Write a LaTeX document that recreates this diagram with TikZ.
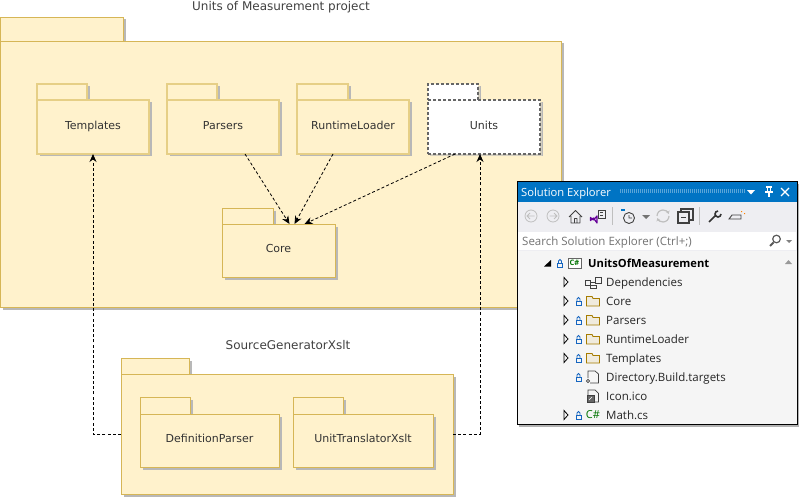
\documentclass[tikz,border=0pt]{standalone}
\usepackage{fontspec}
\setmainfont{Open Sans}
\newfontfamily\labelfont{DejaVu Sans}
\usetikzlibrary{arrows.meta,shadows}

\definecolor{pkgfill}{HTML}{FFF2CC}
\definecolor{pkgline}{HTML}{D6B656}
\definecolor{softline}{HTML}{E6CF86}
\definecolor{vsblue}{HTML}{0074C4}
\definecolor{lockblue}{HTML}{1565C0}
\definecolor{foldline}{HTML}{A67C00}
\definecolor{foldfill}{HTML}{F0EBDD}
\definecolor{panelbg}{HTML}{F5F5F5}
\definecolor{barbg}{HTML}{EEEEF2}

\tikzset{
  pkgshadow/.style={drop shadow={shadow xshift=2.5pt,shadow yshift=-2.5pt,fill=black!28,opacity=1}},
  pkgbody/.style={draw=pkgline,fill=pkgfill,line width=0.9pt,pkgshadow,outer sep=0pt,inner sep=0pt,
    text height=8pt,text depth=5pt,font=\labelfont\fontsize{11}{13}\selectfont,text=black!80},
  pkgtab/.style={pkgbody,anchor=south west},
  softbody/.style={pkgbody,draw=softline,line width=1.3pt,text depth=3pt},
  softtab/.style={softbody,anchor=south west},
  unitsbody/.style={pkgbody,draw=black!60,fill=white,line width=1.1pt,dash pattern=on 3pt off 2pt,text depth=3pt,
    drop shadow={shadow xshift=2pt,shadow yshift=-2pt,fill=pkgline!50!black!30,opacity=1}},
  unitstab/.style={unitsbody,anchor=south west},
  dep/.style={draw=black,line width=0.8pt,dash pattern=on 3pt off 2.2pt,-{Stealth[length=8pt,width=7pt]}},
  title/.style={font=\labelfont\fontsize{12}{13}\selectfont,text=black!75,inner sep=0pt},
  treeitem/.style={anchor=west,inner sep=0pt,text height=10pt,text depth=2pt,font=\fontsize{11.5}{13}\selectfont,text=black!85},
  tool/.style={line width=0.9pt,draw=black!75},
  toolgray/.style={line width=0.8pt,draw=black!25}
}

\newcommand{\lockicon}[2]{%
  \draw[lockblue,line width=0.9pt] (#1-2.5,#2+0.5) rectangle (#1+2.5,#2+4);
  \draw[lockblue,line width=0.9pt] (#1-1.5,#2+0.5) -- (#1-1.5,#2-2) arc[start angle=180,end angle=360,radius=1.5] -- (#1+1.5,#2+0.5);}
\newcommand{\expander}[2]{%
  \draw[black,line width=0.8pt,line join=miter] (#1-2,#2-4.5) -- (#1+2,#2) -- (#1-2,#2+4.5) -- cycle;}
\newcommand{\foldericon}[2]{%
  \draw[foldline,fill=foldfill,line width=0.9pt] (#1,#2+5) -- (#1,#2-4.5) -- (#1+5.5,#2-4.5) -- (#1+6.5,#2-2.5) -- (#1+13,#2-2.5) -- (#1+13,#2+5) -- cycle;}

\begin{document}
\begin{tikzpicture}[x=1pt,y=-1pt]
\useasboundingbox (0,0) rectangle (799,497);

% titles
\node (projecttitle) at (281,7) [title] {Units of Measurement project};
\node (generatortitle) at (288,345) [title] {SourceGeneratorXslt};

% outer package
\node (projecttab) at (0,41) [pkgtab,minimum width=123,minimum height=24] {};
\node (project) at (280.5,174) [pkgbody,minimum width=561,minimum height=266] {};

% inner packages
\node (templatestab) at (37,100) [softtab,minimum width=50,minimum height=16] {};
\node (templates) at (93,127) [softbody,minimum width=112,minimum height=54] {Templates};
\node (parserstab) at (167,100) [softtab,minimum width=50,minimum height=16] {};
\node (parsers) at (223,127) [softbody,minimum width=112,minimum height=54] {Parsers};
\node (loadertab) at (297,100) [softtab,minimum width=51,minimum height=16] {};
\node (loader) at (353,127) [softbody,minimum width=112,minimum height=54] {RuntimeLoader};
\node (unitstab) at (428,100) [unitstab,minimum width=50,minimum height=16] {};
\node (units) at (484,127) [unitsbody,minimum width=112,minimum height=54] {Units};
\node (coretab) at (222,224) [pkgtab,minimum width=51,minimum height=16] {};
\node (core) at (278.5,250.5) [pkgbody,minimum width=113,minimum height=53] {Core};

% generator package
\node (generatortab) at (121,374) [pkgtab,minimum width=68,minimum height=16] {};
\node (generator) at (287,434) [pkgbody,minimum width=332,minimum height=120] {};
\node (definitiontab) at (140,414) [pkgtab,minimum width=50,minimum height=17] {};
\node (definition) at (209.5,440.5) [pkgbody,minimum width=139,minimum height=53] {DefinitionParser};
\node (translatortab) at (293,414) [pkgtab,minimum width=50,minimum height=17] {};
\node (translator) at (363,440.5) [pkgbody,minimum width=140,minimum height=53] {UnitTranslatorXslt};

% dependencies
\draw[dep] ([xshift=22pt]parsers.south) -- ([xshift=11pt]core.north);
\draw[dep] ([xshift=-20pt]loader.south) -- ([xshift=16pt]core.north);
\draw[dep] ([xshift=-29pt]units.south) -- ([xshift=26pt]core.north);
\draw[dep] (generator.west) -| (templates.south);
\draw[dep] (generator.east) -| ([xshift=-4pt]units.south);

% solution explorer window
\fill[black!30] (519,184) rectangle (799,427);
\node (explorer) at (657,302.5) [draw=black,fill=panelbg,line width=1pt,minimum width=280,minimum height=243,inner sep=0pt,outer sep=0pt] {};
\fill[vsblue] (517.5,181.5) rectangle (796.5,202);
\fill[barbg] (517.5,202) rectangle (796.5,250.5);
\node (searchbox) at (657,241) [fill=white,minimum width=278,minimum height=18.5,inner sep=0pt] {};
\node (explorertitle) at (521,192) [anchor=west,inner sep=0pt,text height=10pt,text depth=2pt,text=white,font=\fontsize{11.2}{13}\selectfont] {Solution Explorer};
\draw[white!35!vsblue,line width=3.5pt,dash pattern=on 1pt off 1pt] (620,191) -- (746,191);
\fill[white] (747,190) -- (755,190) -- (751,194.5) -- cycle;
\draw[white,line width=1.1pt] (766,187) -- (772,187) (767.5,187) rectangle (770.5,192) (765,192) -- (773,192) (769,192) -- (769,197);
\draw[white,line width=1.3pt] (781,188) -- (789,196) (789,188) -- (781,196);

% toolbar
\draw[toolgray] (531,216) circle[radius=6];
\draw[toolgray] (534.5,216) -- (527.5,216) (530,213) -- (527,216) -- (530,219);
\draw[toolgray] (553,216) circle[radius=6];
\draw[toolgray] (549.5,216) -- (556.5,216) (554,213) -- (557,216) -- (554,219);
\draw[tool,line join=round] (569,217) -- (575.5,210.5) -- (582,217) (571,216) -- (571,223) -- (580,223) -- (580,216) (574.5,223) -- (574.5,218.5) -- (577,218.5) -- (577,223);
\draw[tool] (598,210) rectangle (605,218);
\draw[tool,line width=0.6pt] (600,212.5) -- (603,212.5) (600,215) -- (603,215);
\draw[violet!80!blue,line width=1.2pt,line join=round] (590.5,217.5) -- (593.5,220) -- (597,216) -- (597,223) -- (593.5,218) -- (590.5,220.5) -- cycle;
\draw[black!25] (612,207) -- (612,225);
\fill[vsblue] (621,209) rectangle (625,211);
\draw[tool] (629,218) circle[radius=5.5] (629,215) -- (629,218) -- (632,218);
\fill[black!55] (642,215) -- (650,215) -- (646,219) -- cycle;
\draw[toolgray,line width=1.2pt,-{Stealth[length=3pt,width=4pt]}] (657,216) arc[start angle=180,end angle=340,radius=6];
\draw[toolgray,line width=1.2pt,-{Stealth[length=3pt,width=4pt]}] (669,216) arc[start angle=0,end angle=160,radius=6];
\draw[tool,line width=1.1pt] (678,212) rectangle (689,223) (681,217.5) -- (686,217.5);
\draw[tool,line width=1.1pt] (681,212) -- (681,209) -- (693,209) -- (693,220) -- (689,220);
\draw[black!25] (699,207) -- (699,225);
\draw[black!80,line width=1.6pt] (709,222) -- (716,215);
\draw[black!80,line width=1.6pt] (721,214) arc[start angle=0,end angle=270,radius=3];
\draw[tool] (729,219) -- (741,219) -- (741,215) -- (732,215) -- cycle;
\fill[orange] (741,211) rectangle (742,212) (744,213) rectangle (745,214);

% search box
\node (searchtext) at (522,241) [anchor=west,inner sep=0pt,text height=10pt,text depth=2pt,text=black!55,font=\fontsize{11.5}{13}\selectfont] {Search Solution Explorer (Ctrl+;)};
\draw[black!65,line width=1.2pt] (776.5,239) circle[radius=3.8];
\draw[black!65,line width=1.8pt] (773.5,242.5) -- (770,246);
\fill[black!50] (786,240) -- (792,240) -- (789,243) -- cycle;

% tree
\fill[black!40] (785,264) -- (792,264) -- (788.5,260) -- cycle;
\fill[black] (544,266.5) -- (551,266.5) -- (551,260) -- cycle;
\lockicon{560}{263}
\draw[black!60,fill=white,line width=0.8pt] (568,258) rectangle (581,268);
\node (csharp) at (574.5,263) [inner sep=0pt,text=green!45!black,font=\bfseries\fontsize{7.5}{8}\selectfont] {C\#};
\node (rootitem) at (588,263) [treeitem,font=\bfseries\fontsize{11.2}{13}\selectfont,text=black] {UnitsOfMeasurement};

\expander{566}{282}
\draw[tool,line width=0.7pt] (585,280) rectangle (590,285) (595,277) rectangle (601,283) (590,282) -- (595,282) (590,285) rectangle (596,288);
\node (depitem) at (606,282) [treeitem] {Dependencies};

\expander{566}{301}
\lockicon{578.5}{301}
\foldericon{586.5}{301}
\node (coreitem) at (606,301) [treeitem] {Core};

\expander{566}{320}
\lockicon{578.5}{320}
\foldericon{586.5}{320}
\node (parsersitem) at (606,320) [treeitem] {Parsers};

\expander{566}{339}
\lockicon{578.5}{339}
\foldericon{586.5}{339}
\node (loaderitem) at (606,339) [treeitem] {RuntimeLoader};

\expander{566}{358}
\lockicon{578.5}{358}
\foldericon{586.5}{358}
\node (templatesitem) at (606,358) [treeitem] {Templates};

\lockicon{578.5}{377}
\draw[tool,line width=0.7pt] (590,383) -- (598.5,383) -- (598.5,374) -- (595,371) -- (588,371) -- (588,378);
\draw[tool,line width=0.7pt] (588,381) circle[radius=1.6];
\node (targetsitem) at (606,377) [treeitem] {Directory.Build.targets};

\draw[tool,line width=0.7pt] (588,396) -- (588,390) -- (595,390) -- (598.5,393.5) -- (598.5,402) -- (594,402);
\draw[tool,fill=black!60,line width=0.7pt] (587,395) rectangle (594,402);
\draw[white,line width=0.6pt] (589,400) -- (592,397);
\node (iconitem) at (606,396) [treeitem] {Icon.ico};

\expander{566}{415}
\lockicon{578.5}{415}
\node (csitem) at (593,415) [inner sep=0pt,text=green!45!black,font=\fontsize{11}{13}\selectfont] {C\#};
\node (mathitem) at (606,415) [treeitem] {Math.cs};
\end{tikzpicture}
\end{document}
